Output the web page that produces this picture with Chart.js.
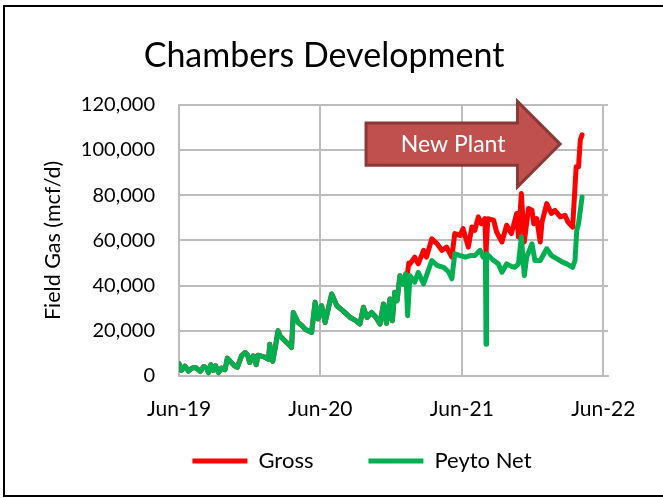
<!DOCTYPE html>
<html>
<head>
<meta charset="utf-8">
<script src="https://cdn.jsdelivr.net/npm/chart.js@4.4.1/dist/chart.umd.min.js"></script>
<style>
  html, body { margin: 0; padding: 0; background: #fff; overflow: hidden; }
  #wrap { position: relative; width: 663px; height: 498px; }
  #frame {
    position: absolute; left: 3px; top: 5px; width: 700px; height: 488px;
    border-left: 2px solid #000; border-top: 2px solid #000; border-bottom: 2px solid #000;
    pointer-events: none;
  }
</style>
</head>
<body>
<div id="wrap">
  <canvas id="chart" width="663" height="498"></canvas>
  <div id="frame"></div>
</div>
<script>
// months since Jun-19
const xTickLabels = ['Jun-19', 'Jun-20', 'Jun-21', 'Jun-22'];
const yTicks = [0, 20000, 40000, 60000, 80000, 100000, 120000];

const netMonth = [0, 0.2, 0.5, 0.8, 1.1, 1.4, 1.8, 2.1, 2.35, 2.5, 2.7, 2.9, 3.1, 3.35, 3.6, 3.9,
  4.1, 4.45, 4.7, 4.95, 5.3, 5.6, 5.8, 6.0, 6.3, 6.55, 6.7, 7.2, 7.6, 7.7, 7.95, 8.15, 8.4, 8.6,
  8.85, 9.2, 9.55, 9.7, 10.1, 10.4, 10.7, 11.25, 11.55, 11.8, 12.1, 12.4, 12.95, 13.4, 14.0, 14.5,
  15.0, 15.35, 15.65, 15.95, 16.35, 16.7, 17.05, 17.35, 17.6, 17.9, 18.1, 18.3, 18.5, 18.75, 19.05,
  19.25, 19.4, 19.6, 20.0, 20.3, 20.75, 21.0, 21.45, 21.9, 22.45, 22.9, 23.15, 23.4, 23.85, 24.3,
  24.7, 25.1, 25.55, 25.8, 26.0, 26.05, 26.1, 26.7, 27.1, 27.4, 27.8, 28.2, 28.5, 28.8, 29.05,
  29.3, 29.5, 29.95, 30.2, 30.65, 31.2, 31.6, 32.05, 32.5, 32.9, 33.4, 33.6, 33.75, 33.9, 34.05, 34.2];
const netFlow = [5500, 2500, 4400, 2200, 3500, 3800, 2000, 4200, 3500, 1500, 5000, 2500, 4500, 1500, 3500, 2800,
  7900, 5900, 4500, 3800, 8900, 10400, 9500, 6000, 8900, 5000, 9200, 8500, 7400, 14000, 6500, 12000, 20000, 17500,
  16300, 14500, 12600, 28100, 23700, 22500, 20700, 19300, 32600, 25200, 31100, 23700, 36300, 31100, 28500, 26000,
  24500, 23000, 30400, 25900, 28100, 26000, 23000, 31900, 23300, 34100, 24400, 37000, 33300, 44400, 40700,
  45200, 26700, 44400, 41500, 45900, 40700, 44400, 51100, 48900, 48100, 45900, 43000, 54100, 53300, 52600,
  53300, 53300, 55600, 52600, 53000, 14100, 54100, 51100, 49600, 45900, 49600, 48500, 48100, 49600, 61500,
  44400, 52600, 58500, 51100, 51100, 56300, 53300, 51900, 50500, 49600, 48100, 51100, 64400, 67400, 73300, 79200];

// gross = net until the split shows up (~Nov-20)
const grossSplitMonth = 19.4;
const grossMonth = [19.4, 19.5, 19.6, 20.0, 20.3, 20.75, 21.0, 21.45, 21.9, 22.3, 22.7, 23.15, 23.4, 23.85,
  24.1, 24.55, 24.85, 25.1, 25.4, 25.65, 25.95, 26.05, 26.2, 26.7, 26.95, 27.4, 27.8, 28.2, 28.65, 28.8,
  29.05, 29.3, 29.65, 29.95, 30.1, 30.35, 30.65, 30.8, 31.2, 31.6, 31.9, 32.35, 32.75, 33.0, 33.4, 33.55,
  33.7, 33.9, 34.05, 34.2];
const grossFlow = [46000, 50000, 49600, 52600, 49600, 55600, 52600, 60700, 58500, 55600, 57000, 52600, 63000, 62200,
  65200, 57000, 65900, 64400, 70400, 67400, 69600, 54100, 69600, 68900, 63700, 59300, 66700, 63000, 71900, 61500,
  80700, 59300, 74100, 73300, 67400, 69600, 59300, 68100, 76300, 71900, 73300, 70400, 71100, 68100, 65900, 79200,
  92600, 92600, 104400, 106700];

// arrow annotation, in axis units
const arrowBox = { x0: 15.87, xHead: 28.72, xTip: 32.34, top: 111900, bottom: 93300, headTop: 121500, headBottom: 83700 };
const arrowText = { label: 'New Plant', x: 23.26, y: 102600 };

const FONT = 'Lato';

function toPoints(xs, ys) {
  return xs.map((x, i) => ({ x: x, y: ys[i] }));
}

const netPoints = toPoints(netMonth, netFlow);
const grossPoints = netPoints.filter(p => p.x < grossSplitMonth).concat(toPoints(grossMonth, grossFlow));

const arrowPlugin = {
  id: 'newPlant',
  afterDatasetsDraw(chart) {
    const xs = chart.scales.x, ys = chart.scales.y, ctx = chart.ctx;
    const x0 = xs.getPixelForValue(arrowBox.x0);
    const xh = xs.getPixelForValue(arrowBox.xHead);
    const xt = xs.getPixelForValue(arrowBox.xTip);
    const t = ys.getPixelForValue(arrowBox.top);
    const b = ys.getPixelForValue(arrowBox.bottom);
    const ht = ys.getPixelForValue(arrowBox.headTop);
    const hb = ys.getPixelForValue(arrowBox.headBottom);
    ctx.save();
    ctx.beginPath();
    ctx.moveTo(x0, t);
    ctx.lineTo(xh, t);
    ctx.lineTo(xh, ht);
    ctx.lineTo(xt, (t + b) / 2);
    ctx.lineTo(xh, hb);
    ctx.lineTo(xh, b);
    ctx.lineTo(x0, b);
    ctx.closePath();
    ctx.fillStyle = '#C0504D';
    ctx.fill();
    ctx.lineWidth = 3;
    ctx.strokeStyle = '#8C3836';
    ctx.lineJoin = 'miter';
    ctx.stroke();
    ctx.fillStyle = '#ffffff';
    ctx.font = '23px ' + FONT;
    ctx.textAlign = 'center';
    ctx.textBaseline = 'middle';
    ctx.fillText(arrowText.label, xs.getPixelForValue(arrowText.x), ys.getPixelForValue(arrowText.y));
    ctx.restore();
  }
};

// legend sits right of centre and a bit higher in the original
const legendShift = {
  id: 'legendShift',
  afterLayout(chart) {
    chart.legend.left += 38;
    chart.legend.right += 38;
    chart.legend.top -= 28;
    chart.legend.bottom -= 28;
  }
};

new Chart(document.getElementById('chart'), {
  type: 'line',
  data: {
    datasets: [
      {
        label: 'Gross',
        data: grossPoints,
        borderColor: '#FF0000',
        backgroundColor: '#FF0000',
        borderWidth: 5,
        pointRadius: 0,
        tension: 0,
        borderCapStyle: 'round',
        borderJoinStyle: 'round',
        order: 1
      },
      {
        label: 'Peyto Net',
        data: netPoints,
        borderColor: '#00B050',
        backgroundColor: '#00B050',
        borderWidth: 5,
        pointRadius: 0,
        tension: 0,
        borderCapStyle: 'round',
        borderJoinStyle: 'round',
        order: 0
      }
    ]
  },
  options: {
    responsive: false,
    animation: false,
    layout: { padding: { left: 40, right: 55, top: 0, bottom: -12 } },
    plugins: {
      title: {
        display: true,
        text: 'Chambers Development',
        color: '#000',
        font: { family: FONT, size: 34, weight: 'normal' },
        padding: { top: 36, bottom: 28 }
      },
      legend: {
        position: 'bottom',
        labels: {
          color: '#000',
          font: { family: FONT, size: 22 },
          usePointStyle: true,
          pointStyle: 'line',
          pointStyleWidth: 55,
          padding: 55,
          sort: (a, b) => a.datasetIndex - b.datasetIndex
        }
      },
      tooltip: { enabled: false }
    },
    scales: {
      x: {
        type: 'linear',
        min: 0,
        max: 36.4,
        afterBuildTicks: (scale) => {
          scale.ticks = xTickLabels.map((_, i) => ({ value: i * 12 }));
        },
        afterFit: (scale) => { scale.height = 47; },
        grid: { color: '#BDBDBD', lineWidth: 2, drawTicks: false },
        border: { color: '#BDBDBD', width: 2 },
        ticks: {
          color: '#000',
          font: { family: FONT, size: 21 },
          padding: 21,
          maxRotation: 0,
          callback: (v) => xTickLabels[Math.round(v / 12)]
        }
      },
      y: {
        min: 0,
        max: 120000,
        afterBuildTicks: (scale) => {
          scale.ticks = yTicks.map(v => ({ value: v }));
        },
        afterFit: (scale) => { scale.width = 139; },
        grid: { color: '#BDBDBD', lineWidth: 2, drawTicks: false },
        border: { color: '#BDBDBD', width: 2 },
        title: {
          display: true,
          text: 'Field Gas (mcf/d)',
          color: '#000',
          font: { family: FONT, size: 21.5 },
          padding: { top: 0, bottom: 0 }
        },
        ticks: {
          color: '#000',
          font: { family: FONT, size: 20 },
          padding: 24,
          callback: (v) => v.toLocaleString('en-US')
        }
      }
    }
  },
  plugins: [arrowPlugin, legendShift]
});
</script>
</body>
</html>
